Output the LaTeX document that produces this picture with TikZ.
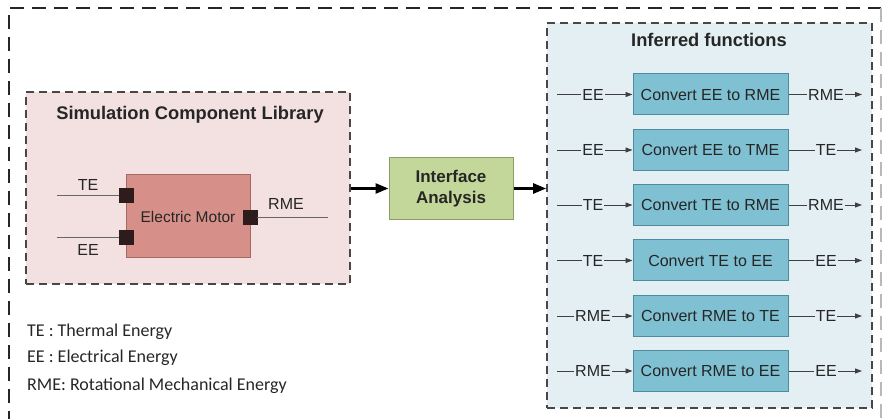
\documentclass[tikz,border=0pt]{standalone}
\usepackage{fontspec}
\setmainfont{Liberation Sans}
\newfontfamily\legendfont{Carlito}
\usetikzlibrary{arrows.meta}

\definecolor{libbg}{HTML}{F3E1E2}
\definecolor{motorfill}{HTML}{D79089}
\definecolor{motorline}{HTML}{A86862}
\definecolor{portfill}{HTML}{2E1C1C}
\definecolor{iafill}{HTML}{C4D79B}
\definecolor{ialine}{HTML}{8A9E66}
\definecolor{fnbg}{HTML}{E3EFF3}
\definecolor{cvfill}{HTML}{7FC1D2}
\definecolor{cvline}{HTML}{4C8C9E}
\definecolor{ink}{HTML}{262626}
\definecolor{wire}{HTML}{404040}

\tikzset{
  outerframe/.style={line width=2.4pt, dash pattern=on 14pt off 8pt, draw=ink},
  groupbox/.style={draw=ink!85, line width=1.7pt, dash pattern=on 8pt off 5pt},
  boxtitle/.style={font=\fontsize{18.3}{20}\selectfont\bfseries, text=ink},
  plain/.style={font=\fontsize{16}{18}\selectfont, text=ink},
  port/.style={fill=portfill, draw=portfill, minimum size=13.5pt, inner sep=0pt},
  portwire/.style={draw=wire!80, line width=0.9pt},
  bigarrow/.style={line width=2.6pt, draw=black, -{Triangle[length=13pt,width=10pt]}},
  flowarrow/.style={line width=0.9pt, draw=wire, -{Triangle[length=7pt,width=5pt]}},
  convbox/.style={draw=cvline, line width=1pt, fill=cvfill, minimum width=155pt,
    minimum height=41pt, inner sep=0pt, font=\fontsize{16}{18}\selectfont, text=ink},
  flowlabel/.style={fill=fnbg, inner sep=1pt, font=\fontsize{16}{18}\selectfont, text=ink},
  legend/.style={anchor=west, inner sep=0pt, font=\legendfont\fontsize{18}{20}\selectfont, text=ink}
}

\begin{document}
\begin{tikzpicture}[x=1pt, y=-1pt]
\useasboundingbox (0,0) rectangle (891,419);

% outer frame (open at the bottom)
\draw[outerframe] (9,425) -- (9,8) -- (881,8);
\draw[outerframe, draw=gray!55] (881,8) -- (881,425);

% ---- simulation component library ----
\node[groupbox, fill=libbg, minimum width=324pt, minimum height=192pt, inner sep=0pt]
  (lib) at (188,188) {};
\node[boxtitle] (libtitle) at (190,115) {Simulation Component Library};

\node[draw=motorline, line width=1pt, fill=motorfill, minimum width=124pt,
  minimum height=83pt, inner sep=0pt, plain, font=\fontsize{15.5}{18}\selectfont]
  (motor) at (188,216.5) {Electric Motor};

\node[port] (pTE) at (126,195) {};
\node[port] (pEE) at (126,237) {};
\node[port] (pRME) at (250,217) {};

\coordinate (teIn) at (57,195);
\coordinate (eeIn) at (57,237);
\coordinate (rmeOut) at (328,217);
\draw[portwire] (teIn) -- (pTE.west);
\draw[portwire] (eeIn) -- (pEE.west);
\draw[portwire] (pRME.east) -- (rmeOut);
\node[plain] (teLbl) at (88,185) {TE};
\node[plain] (eeLbl) at (88,250) {EE};
\node[plain] (rmeLbl) at (286,204) {RME};

% ---- interface analysis ----
\node[draw=ialine, line width=1pt, fill=iafill, minimum width=124pt, minimum height=62pt,
  inner sep=0pt, align=center, boxtitle, font=\fontsize{17}{21}\selectfont\bfseries]
  (ia) at (451,188.5) {Interface\\Analysis};

% ---- inferred functions ----
\node[groupbox, fill=fnbg, minimum width=325pt, minimum height=385pt, inner sep=0pt]
  (fn) at (709.5,215.5) {};
\node[boxtitle] (fntitle) at (709,40) {Inferred functions};

\draw[bigarrow] (lib.east |- ia.west) -- (ia.west);
\draw[bigarrow] (ia.east) -- (ia.east -| fn.west);

% conversion blocks: y position / name / input / output
\foreach \y/\n/\txt/\inp/\outp in {
  94.5/c1/Convert EE to RME/EE/RME,
  150/c2/Convert EE to TME/EE/TE,
  205/c3/Convert TE to RME/TE/RME,
  260.5/c4/Convert TE to EE/TE/EE,
  316/c5/Convert RME to TE/RME/TE,
  371/c6/Convert RME to EE/RME/EE}{
  \node[convbox] (\n) at (710.5,\y) {\txt};
  \coordinate (\n in) at (557,\y);
  \coordinate (\n out) at (862,\y);
  \draw[flowarrow] (\n in) -- (\n.west);
  \draw[flowarrow] (\n.east) -- (\n out);
  \node[flowlabel] (\n inlbl) at (593,\y) {\inp};
  \node[flowlabel] (\n outlbl) at (826,\y) {\outp};
}

% ---- legend ----
\node[legend] (lgTE) at (27,332) {TE : Thermal Energy};
\node[legend] (lgEE) at (27,358) {EE : Electrical Energy};
\node[legend] (lgRME) at (27,385.5) {RME: Rotational Mechanical Energy};
\end{tikzpicture}
\end{document}
